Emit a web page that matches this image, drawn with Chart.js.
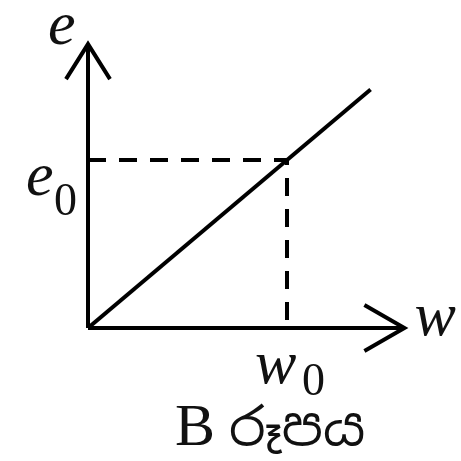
<!DOCTYPE html>
<html>
<head>
<meta charset="utf-8">
<script src="https://cdn.jsdelivr.net/npm/chart.js@4"></script>
<style>
  body { margin: 0; background: #fff; }
  #wrap { width: 461px; height: 461px; }
</style>
</head>
<body>
<div id="wrap"><canvas id="graph"></canvas></div>
<script>
// line e = (e0/w0) * w, in units of w0 and e0
var lineW = [0, 1.42];
var lineE = [0, 1.42];
var w0 = 1;
var e0 = 1;
var xAxisEnd = 1.59;
var yAxisEnd = 1.69;
var captionLetter = 'B';
var captionWord = 'රූපය';

function pts(xs, ys) {
  return xs.map(function (x, i) { return { x: x, y: ys[i] }; });
}

var solid = { borderColor: '#000', borderWidth: 4, pointRadius: 0, showLine: true, fill: false, tension: 0 };
function ds(data, extra) {
  return Object.assign({ data: data }, solid, extra || {});
}

// arrow heads + text labels, placed relative to the scale pixels
var labelPlugin = {
  id: 'labels',
  afterDatasetsDraw: function (chart) {
    var ctx = chart.ctx;
    var xs = chart.scales.x, ys = chart.scales.y;
    var ox = xs.getPixelForValue(0), oy = ys.getPixelForValue(0);
    var xe = xs.getPixelForValue(xAxisEnd), ye = ys.getPixelForValue(yAxisEnd);
    var px0 = xs.getPixelForValue(w0), py0 = ys.getPixelForValue(e0);

    ctx.save();
    ctx.strokeStyle = '#000';
    ctx.lineWidth = 4;
    ctx.beginPath();
    ctx.moveTo(xe - 40, oy - 23); ctx.lineTo(xe, oy); ctx.lineTo(xe - 40, oy + 23);
    ctx.moveTo(ox - 22, ye + 35); ctx.lineTo(ox, ye); ctx.lineTo(ox + 22, ye + 35);
    ctx.stroke();

    ctx.fillStyle = '#111';
    ctx.textBaseline = 'alphabetic';
    ctx.textAlign = 'left';
    ctx.font = 'italic 62px "Liberation Serif", serif';
    ctx.fillText('e', ox - 40, ye);
    ctx.fillText('e', ox - 62, py0 + 35);
    ctx.fillText('w', xe + 10, oy + 7);
    ctx.fillText('w', px0 - 32, oy + 55);
    ctx.font = '46px "Liberation Serif", serif';
    ctx.fillText('0', ox - 34, py0 + 55);
    ctx.fillText('0', px0 + 15, oy + 67);
    ctx.font = '60px "Liberation Serif", serif';
    ctx.fillText(captionLetter, px0 - 112, oy + 117);
    ctx.font = '52px "Noto Sans Sinhala", "Noto Serif Sinhala", sans-serif';
    ctx.fillText(captionWord, px0 - 58, oy + 117);
    ctx.restore();
  }
};

new Chart(document.getElementById('graph'), {
  type: 'scatter',
  data: {
    datasets: [
      ds(pts([0, xAxisEnd], [0, 0])),
      ds(pts([0, 0], [0, yAxisEnd])),
      ds(pts(lineW, lineE)),
      ds(pts([0, w0, w0], [e0, e0, 0]), { borderDash: [18, 13] })
    ]
  },
  options: {
    responsive: true,
    maintainAspectRatio: false,
    animation: false,
    layout: { padding: 0 },
    plugins: { legend: { display: false }, tooltip: { enabled: false } },
    scales: {
      x: { display: false, min: -88 / 199, max: 373 / 199 },
      y: { display: false, min: -133 / 168, max: 328 / 168 }
    }
  },
  plugins: [labelPlugin]
});
</script>
</body>
</html>
